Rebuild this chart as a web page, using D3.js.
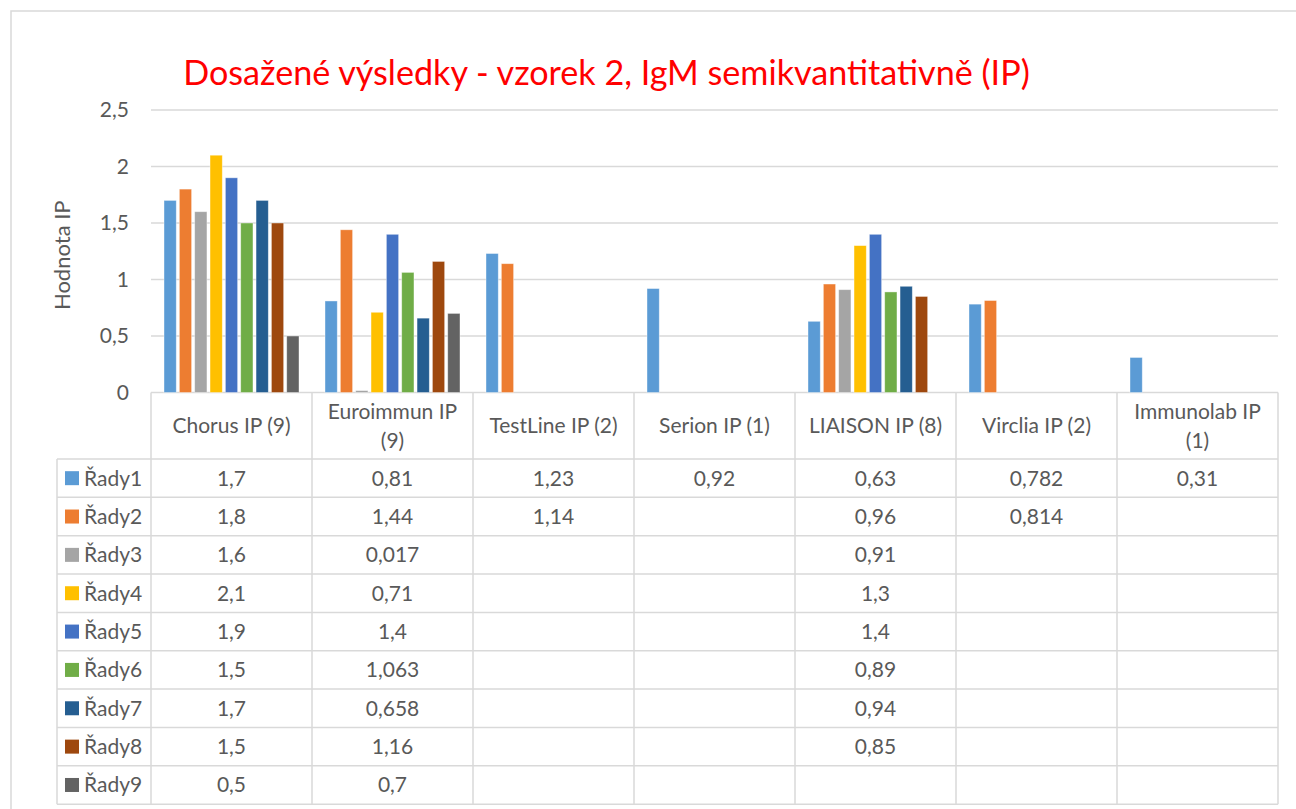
<!DOCTYPE html>
<html><head><meta charset="utf-8">
<script src="https://cdn.jsdelivr.net/npm/d3@7"></script>
<style>
html,body{margin:0;padding:0;background:#fff;}
svg{display:block;font-family:Lato,"Open Sans",sans-serif;}
</style></head>
<body>
<svg id="chart" width="1296" height="809"></svg>
<script>
// ---- data ----
const categories = ["Chorus IP (9)","Euroimmun IP (9)","TestLine IP (2)","Serion IP (1)","LIAISON IP (8)","Virclia IP (2)","Immunolab IP (1)"];
const categoryLines = [["Chorus IP (9)"],["Euroimmun IP","(9)"],["TestLine IP (2)"],["Serion IP (1)"],["LIAISON IP (8)"],["Virclia IP (2)"],["Immunolab IP","(1)"]];
const seriesNames = ["Řady1","Řady2","Řady3","Řady4","Řady5","Řady6","Řady7","Řady8","Řady9"];
const chorus    = [1.7,1.8,1.6,2.1,1.9,1.5,1.7,1.5,0.5];
const euroimmun = [0.81,1.44,0.017,0.71,1.4,1.063,0.658,1.16,0.7];
const testline  = [1.23,1.14,null,null,null,null,null,null,null];
const serion    = [0.92,null,null,null,null,null,null,null,null];
const liaison   = [0.63,0.96,0.91,1.3,1.4,0.89,0.94,0.85,null];
const virclia   = [0.782,0.814,null,null,null,null,null,null,null];
const immunolab = [0.31,null,null,null,null,null,null,null,null];
const yTicks = [0,0.5,1,1.5,2,2.5];
const colors = ["#5B9BD5","#ED7D31","#A5A5A5","#FFC000","#4472C4","#70AD47","#255E91","#9E480E","#636363"];
const titleText = "Dosažené výsledky - vzorek 2, IgM semikvantitativně (IP)";
const yTitle = "Hodnota IP";

const valuesByCat = [chorus,euroimmun,testline,serion,liaison,virclia,immunolab];

// ---- layout ----
const svg = d3.select("#chart");
const L = 151, R = 1278, Y0 = 392.5, YT = 110;
const headerBottom = 459, rowH = 38.35, legendLeft = 57;
const grid = "#D9D9D9", textCol = "#595959";
const fs = 21;

// outer frame
svg.append("rect").attr("x",11).attr("y",11).attr("width",1300).attr("height",820)
  .attr("fill","none").attr("stroke",grid).attr("stroke-width",1.5);

const x0 = d3.scaleBand().domain(categories).range([L,R]).padding(0);
const x1 = d3.scaleBand().domain(seriesNames).range([13, x0.bandwidth()-13]).paddingInner(0.2).paddingOuter(0);
const y = d3.scaleLinear().domain([0,2.5]).range([Y0,YT]);

// gridlines
svg.append("g").selectAll("line").data(yTicks).join("line")
  .attr("x1",L).attr("x2",R).attr("y1",d=>y(d)).attr("y2",d=>y(d))
  .attr("stroke",grid).attr("stroke-width",1.5);

// y axis labels
const fmt = v => String(v).replace(".",",");
svg.append("g").selectAll("text").data(yTicks).join("text")
  .attr("x",129).attr("y",d=>y(d)).attr("dy","0.35em").attr("text-anchor","end")
  .attr("fill",textCol).attr("font-size",fs).text(fmt);

// y title
svg.append("text").attr("transform",`translate(70,${(YT+Y0)/2+4}) rotate(-90)`)
  .attr("text-anchor","middle").attr("fill",textCol).attr("font-size",22).text(yTitle);

// bars
const barData = [];
categories.forEach((c,ci)=>{
  valuesByCat[ci].forEach((v,si)=>{ if(v!=null) barData.push({c, s:seriesNames[si], v, si}); });
});
svg.append("g").selectAll("rect").data(barData).join("rect")
  .attr("x",d=>x0(d.c)+x1(d.s)).attr("width",x1.bandwidth())
  .attr("y",d=>y(d.v)).attr("height",d=>Y0-y(d.v))
  .attr("fill",d=>colors[d.si]).attr("stroke","#ffffff").attr("stroke-opacity",0.5).attr("stroke-width",0.8);

// title
const t = svg.append("text").attr("x",606.5).attr("y",85).attr("text-anchor","middle")
  .attr("fill","#FF0000").attr("font-size",32).text(titleText);
const tw = t.node().getComputedTextLength();
t.attr("font-size", 32*847/tw);

// ---- data table ----
const tbl = svg.append("g");
const tableBottom = headerBottom + rowH*seriesNames.length;
const xs = categories.map(c=>x0(c)).concat([R]);
tbl.selectAll("line.v").data(xs).join("line")
  .attr("x1",d=>d).attr("x2",d=>d).attr("y1",Y0).attr("y2",tableBottom)
  .attr("stroke",grid).attr("stroke-width",1.5);
tbl.append("line").attr("x1",legendLeft).attr("x2",legendLeft).attr("y1",headerBottom).attr("y2",tableBottom)
  .attr("stroke",grid).attr("stroke-width",1.5);
const ys = d3.range(seriesNames.length+1).map(i=>headerBottom+i*rowH);
tbl.selectAll("line.h").data(ys).join("line")
  .attr("x1",legendLeft).attr("x2",R).attr("y1",d=>d).attr("y2",d=>d)
  .attr("stroke",grid).attr("stroke-width",1.5);

// header text
categories.forEach((c,ci)=>{
  const lines = categoryLines[ci];
  const cx = x0(c)+x0.bandwidth()/2;
  const cy = (Y0+headerBottom)/2;
  const lh = 29;
  lines.forEach((ln,li)=>{
    tbl.append("text").attr("x",cx).attr("y",cy+(li-(lines.length-1)/2)*lh).attr("dy","0.35em")
      .attr("text-anchor","middle").attr("fill",textCol).attr("font-size",fs).text(ln);
  });
});

// rows
seriesNames.forEach((s,si)=>{
  const cy = headerBottom + si*rowH + rowH/2;
  tbl.append("rect").attr("x",65).attr("y",cy-7).attr("width",14).attr("height",14).attr("fill",colors[si]);
  tbl.append("text").attr("x",84).attr("y",cy).attr("dy","0.35em").attr("fill",textCol).attr("font-size",fs).text(s);
  categories.forEach((c,ci)=>{
    const v = valuesByCat[ci][si];
    if(v==null) return;
    tbl.append("text").attr("x",x0(c)+x0.bandwidth()/2).attr("y",cy).attr("dy","0.35em")
      .attr("text-anchor","middle").attr("fill",textCol).attr("font-size",fs).text(fmt(v));
  });
});
</script>
</body></html>
